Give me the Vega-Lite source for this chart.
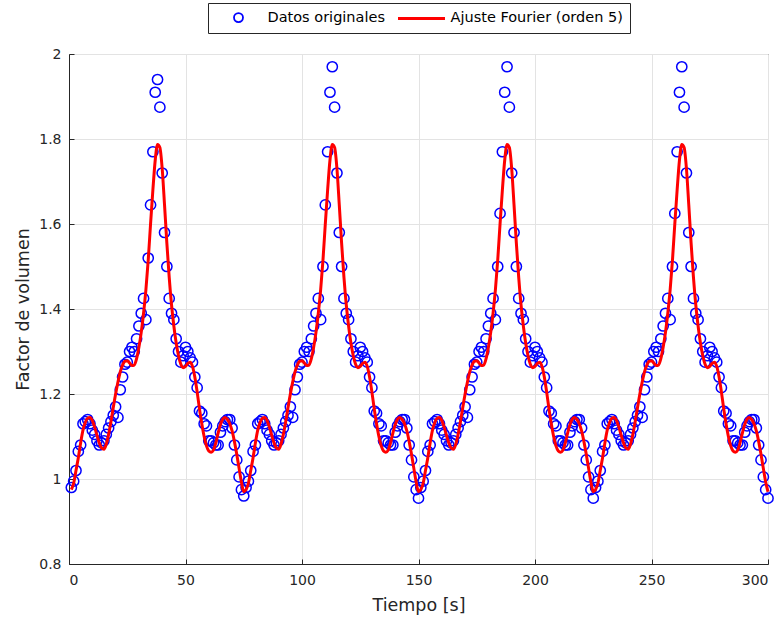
{
"$schema": "https://vega.github.io/schema/vega-lite/v6.json",
"width": 699, "height": 510,
"autosize": {"type": "none"},
"padding": {"left": 69, "top": 54, "right": 14, "bottom": 55},
"background": "white",
"config": {
  "font": "DejaVu Sans",
  "view": {"stroke": "#262626", "strokeWidth": 1},
  "axis": {"domainColor": "#262626", "tickColor": "#262626", "labelColor": "#262626", "titleColor": "#262626", "gridColor": "#e3e3e3", "labelFontSize": 14, "titleFontSize": 17.5, "titleFontWeight": "normal", "labelFont": "DejaVu Sans", "titleFont": "DejaVu Sans"},
  "legend": {
    "title": null, "orient": "none", "legendX": 139, "legendY": -51, "direction": "horizontal",
    "padding": 7, "strokeColor": "#262626", "fillColor": "white",
    "labelFontSize": 14.5, "labelFont": "DejaVu Sans", "labelColor": "#000000", "labelLimit": 400,
    "symbolSize": 81, "symbolStrokeWidth": 1.5, "labelOffset": 38, "columnPadding": 7
  }
},
"datasets": {
"datos": [
{"t":1,"v":0.98},{"t":2,"v":0.995},{"t":3,"v":1.02},{"t":4,"v":1.065},{"t":5,"v":1.08},{"t":6,"v":1.13},{"t":7,"v":1.135},{"t":8,"v":1.14},{"t":9,"v":1.13},{"t":10,"v":1.115},{"t":11,"v":1.105},{"t":12,"v":1.09},{"t":13,"v":1.08},{"t":14,"v":1.085},{"t":15,"v":1.09},{"t":16,"v":1.105},{"t":17,"v":1.12},{"t":18,"v":1.135},{"t":19,"v":1.15},{"t":20,"v":1.17},{"t":21,"v":1.145},{"t":22,"v":1.21},{"t":23,"v":1.24},{"t":24,"v":1.27},{"t":25,"v":1.275},{"t":26,"v":1.3},{"t":27,"v":1.31},{"t":28,"v":1.3},{"t":29,"v":1.33},{"t":30,"v":1.36},{"t":31,"v":1.39},{"t":32,"v":1.425},{"t":33,"v":1.375},{"t":34,"v":1.52},{"t":35,"v":1.645},{"t":36,"v":1.77},{"t":37,"v":1.91},{"t":38,"v":1.94},{"t":39,"v":1.875},{"t":40,"v":1.72},{"t":41,"v":1.58},{"t":42,"v":1.5},{"t":43,"v":1.425},{"t":44,"v":1.39},{"t":45,"v":1.375},{"t":46,"v":1.33},{"t":47,"v":1.3},{"t":48,"v":1.275},{"t":49,"v":1.29},{"t":50,"v":1.31},{"t":51,"v":1.3},{"t":52,"v":1.285},{"t":53,"v":1.275},{"t":54,"v":1.24},{"t":55,"v":1.215},{"t":56,"v":1.16},{"t":57,"v":1.155},{"t":58,"v":1.13},{"t":59,"v":1.125},{"t":60,"v":1.09},{"t":61,"v":1.09},{"t":62,"v":1.085},{"t":63,"v":1.08},{"t":64,"v":1.08},{"t":65,"v":1.11},{"t":66,"v":1.125},{"t":67,"v":1.135},{"t":68,"v":1.14},{"t":69,"v":1.14},{"t":70,"v":1.12},{"t":71,"v":1.08},{"t":72,"v":1.045},{"t":73,"v":1.005},{"t":74,"v":0.975},{"t":75,"v":0.96},
{"t":76,"v":0.98},{"t":77,"v":0.995},{"t":78,"v":1.02},{"t":79,"v":1.065},{"t":80,"v":1.08},{"t":81,"v":1.13},{"t":82,"v":1.135},{"t":83,"v":1.14},{"t":84,"v":1.13},{"t":85,"v":1.115},{"t":86,"v":1.105},{"t":87,"v":1.09},{"t":88,"v":1.08},{"t":89,"v":1.085},{"t":90,"v":1.09},{"t":91,"v":1.105},{"t":92,"v":1.12},{"t":93,"v":1.135},{"t":94,"v":1.15},{"t":95,"v":1.17},{"t":96,"v":1.145},{"t":97,"v":1.21},{"t":98,"v":1.24},{"t":99,"v":1.27},{"t":100,"v":1.275},{"t":101,"v":1.3},{"t":102,"v":1.31},{"t":103,"v":1.3},{"t":104,"v":1.33},{"t":105,"v":1.36},{"t":106,"v":1.39},{"t":107,"v":1.425},{"t":108,"v":1.375},{"t":109,"v":1.5},{"t":110,"v":1.645},{"t":111,"v":1.77},{"t":112,"v":1.91},{"t":113,"v":1.97},{"t":114,"v":1.875},{"t":115,"v":1.72},{"t":116,"v":1.58},{"t":117,"v":1.5},{"t":118,"v":1.425},{"t":119,"v":1.39},{"t":120,"v":1.375},{"t":121,"v":1.33},{"t":122,"v":1.3},{"t":123,"v":1.275},{"t":124,"v":1.29},{"t":125,"v":1.31},{"t":126,"v":1.3},{"t":127,"v":1.285},{"t":128,"v":1.275},{"t":129,"v":1.24},{"t":130,"v":1.215},{"t":131,"v":1.16},{"t":132,"v":1.155},{"t":133,"v":1.13},{"t":134,"v":1.125},{"t":135,"v":1.09},{"t":136,"v":1.09},{"t":137,"v":1.085},{"t":138,"v":1.08},{"t":139,"v":1.08},{"t":140,"v":1.11},{"t":141,"v":1.125},{"t":142,"v":1.135},{"t":143,"v":1.14},{"t":144,"v":1.14},{"t":145,"v":1.12},{"t":146,"v":1.08},{"t":147,"v":1.045},{"t":148,"v":1.005},{"t":149,"v":0.975},{"t":150,"v":0.955},
{"t":151,"v":0.98},{"t":152,"v":0.995},{"t":153,"v":1.02},{"t":154,"v":1.065},{"t":155,"v":1.08},{"t":156,"v":1.13},{"t":157,"v":1.135},{"t":158,"v":1.14},{"t":159,"v":1.13},{"t":160,"v":1.115},{"t":161,"v":1.105},{"t":162,"v":1.09},{"t":163,"v":1.08},{"t":164,"v":1.085},{"t":165,"v":1.09},{"t":166,"v":1.105},{"t":167,"v":1.12},{"t":168,"v":1.135},{"t":169,"v":1.15},{"t":170,"v":1.17},{"t":171,"v":1.145},{"t":172,"v":1.21},{"t":173,"v":1.24},{"t":174,"v":1.27},{"t":175,"v":1.275},{"t":176,"v":1.3},{"t":177,"v":1.31},{"t":178,"v":1.3},{"t":179,"v":1.33},{"t":180,"v":1.36},{"t":181,"v":1.39},{"t":182,"v":1.425},{"t":183,"v":1.375},{"t":184,"v":1.5},{"t":185,"v":1.625},{"t":186,"v":1.77},{"t":187,"v":1.91},{"t":188,"v":1.97},{"t":189,"v":1.875},{"t":190,"v":1.72},{"t":191,"v":1.58},{"t":192,"v":1.5},{"t":193,"v":1.425},{"t":194,"v":1.39},{"t":195,"v":1.375},{"t":196,"v":1.33},{"t":197,"v":1.3},{"t":198,"v":1.275},{"t":199,"v":1.29},{"t":200,"v":1.31},{"t":201,"v":1.3},{"t":202,"v":1.285},{"t":203,"v":1.275},{"t":204,"v":1.24},{"t":205,"v":1.215},{"t":206,"v":1.16},{"t":207,"v":1.155},{"t":208,"v":1.13},{"t":209,"v":1.125},{"t":210,"v":1.09},{"t":211,"v":1.09},{"t":212,"v":1.085},{"t":213,"v":1.08},{"t":214,"v":1.08},{"t":215,"v":1.11},{"t":216,"v":1.125},{"t":217,"v":1.135},{"t":218,"v":1.14},{"t":219,"v":1.14},{"t":220,"v":1.12},{"t":221,"v":1.08},{"t":222,"v":1.045},{"t":223,"v":1.005},{"t":224,"v":0.975},{"t":225,"v":0.955},
{"t":226,"v":0.98},{"t":227,"v":0.995},{"t":228,"v":1.02},{"t":229,"v":1.065},{"t":230,"v":1.08},{"t":231,"v":1.13},{"t":232,"v":1.135},{"t":233,"v":1.14},{"t":234,"v":1.13},{"t":235,"v":1.115},{"t":236,"v":1.105},{"t":237,"v":1.09},{"t":238,"v":1.08},{"t":239,"v":1.085},{"t":240,"v":1.09},{"t":241,"v":1.105},{"t":242,"v":1.12},{"t":243,"v":1.135},{"t":244,"v":1.15},{"t":245,"v":1.17},{"t":246,"v":1.145},{"t":247,"v":1.21},{"t":248,"v":1.24},{"t":249,"v":1.27},{"t":250,"v":1.275},{"t":251,"v":1.3},{"t":252,"v":1.31},{"t":253,"v":1.3},{"t":254,"v":1.33},{"t":255,"v":1.36},{"t":256,"v":1.39},{"t":257,"v":1.425},{"t":258,"v":1.375},{"t":259,"v":1.5},{"t":260,"v":1.625},{"t":261,"v":1.77},{"t":262,"v":1.91},{"t":263,"v":1.97},{"t":264,"v":1.875},{"t":265,"v":1.72},{"t":266,"v":1.58},{"t":267,"v":1.5},{"t":268,"v":1.425},{"t":269,"v":1.39},{"t":270,"v":1.375},{"t":271,"v":1.33},{"t":272,"v":1.3},{"t":273,"v":1.275},{"t":274,"v":1.29},{"t":275,"v":1.31},{"t":276,"v":1.3},{"t":277,"v":1.285},{"t":278,"v":1.275},{"t":279,"v":1.24},{"t":280,"v":1.215},{"t":281,"v":1.16},{"t":282,"v":1.155},{"t":283,"v":1.13},{"t":284,"v":1.125},{"t":285,"v":1.09},{"t":286,"v":1.09},{"t":287,"v":1.085},{"t":288,"v":1.08},{"t":289,"v":1.08},{"t":290,"v":1.11},{"t":291,"v":1.125},{"t":292,"v":1.135},{"t":293,"v":1.14},{"t":294,"v":1.14},{"t":295,"v":1.12},{"t":296,"v":1.08},{"t":297,"v":1.045},{"t":298,"v":1.005},{"t":299,"v":0.975},{"t":300,"v":0.955}
],
"ajuste": [
{"t":1,"f":0.975},{"t":2,"f":0.99},{"t":3,"f":1.02},{"t":4,"f":1.05},{"t":5,"f":1.085},{"t":6,"f":1.115},{"t":7,"f":1.133},{"t":8,"f":1.143},{"t":9,"f":1.145},{"t":10,"f":1.138},{"t":11,"f":1.122},{"t":12,"f":1.103},{"t":13,"f":1.085},{"t":14,"f":1.073},{"t":15,"f":1.07},{"t":16,"f":1.082},{"t":17,"f":1.105},{"t":18,"f":1.135},{"t":19,"f":1.168},{"t":20,"f":1.2},{"t":21,"f":1.228},{"t":22,"f":1.252},{"t":23,"f":1.268},{"t":24,"f":1.277},{"t":25,"f":1.278},{"t":26,"f":1.273},{"t":27,"f":1.267},{"t":28,"f":1.268},{"t":29,"f":1.283},{"t":30,"f":1.31},{"t":31,"f":1.345},{"t":32,"f":1.39},{"t":33,"f":1.445},{"t":34,"f":1.515},{"t":35,"f":1.6},{"t":36,"f":1.68},{"t":37,"f":1.75},{"t":38,"f":1.787},{"t":39,"f":1.78},{"t":40,"f":1.73},{"t":41,"f":1.645},{"t":42,"f":1.555},{"t":43,"f":1.475},{"t":44,"f":1.41},{"t":45,"f":1.36},{"t":46,"f":1.32},{"t":47,"f":1.29},{"t":48,"f":1.27},{"t":49,"f":1.262},{"t":50,"f":1.265},{"t":51,"f":1.272},{"t":52,"f":1.275},{"t":53,"f":1.265},{"t":54,"f":1.24},{"t":55,"f":1.205},{"t":56,"f":1.165},{"t":57,"f":1.13},{"t":58,"f":1.1},{"t":59,"f":1.078},{"t":60,"f":1.066},{"t":61,"f":1.063},{"t":62,"f":1.068},{"t":63,"f":1.085},{"t":64,"f":1.108},{"t":65,"f":1.128},{"t":66,"f":1.141},{"t":67,"f":1.145},{"t":68,"f":1.14},{"t":69,"f":1.13},{"t":70,"f":1.113},{"t":71,"f":1.088},{"t":72,"f":1.058},{"t":73,"f":1.025},{"t":74,"f":0.993},{"t":75,"f":0.97},
{"t":76,"f":0.975},{"t":77,"f":0.99},{"t":78,"f":1.02},{"t":79,"f":1.05},{"t":80,"f":1.085},{"t":81,"f":1.115},{"t":82,"f":1.133},{"t":83,"f":1.143},{"t":84,"f":1.145},{"t":85,"f":1.138},{"t":86,"f":1.122},{"t":87,"f":1.103},{"t":88,"f":1.085},{"t":89,"f":1.073},{"t":90,"f":1.07},{"t":91,"f":1.082},{"t":92,"f":1.105},{"t":93,"f":1.135},{"t":94,"f":1.168},{"t":95,"f":1.2},{"t":96,"f":1.228},{"t":97,"f":1.252},{"t":98,"f":1.268},{"t":99,"f":1.277},{"t":100,"f":1.278},{"t":101,"f":1.273},{"t":102,"f":1.267},{"t":103,"f":1.268},{"t":104,"f":1.283},{"t":105,"f":1.31},{"t":106,"f":1.345},{"t":107,"f":1.39},{"t":108,"f":1.445},{"t":109,"f":1.515},{"t":110,"f":1.6},{"t":111,"f":1.68},{"t":112,"f":1.75},{"t":113,"f":1.787},{"t":114,"f":1.78},{"t":115,"f":1.73},{"t":116,"f":1.645},{"t":117,"f":1.555},{"t":118,"f":1.475},{"t":119,"f":1.41},{"t":120,"f":1.36},{"t":121,"f":1.32},{"t":122,"f":1.29},{"t":123,"f":1.27},{"t":124,"f":1.262},{"t":125,"f":1.265},{"t":126,"f":1.272},{"t":127,"f":1.275},{"t":128,"f":1.265},{"t":129,"f":1.24},{"t":130,"f":1.205},{"t":131,"f":1.165},{"t":132,"f":1.13},{"t":133,"f":1.1},{"t":134,"f":1.078},{"t":135,"f":1.066},{"t":136,"f":1.063},{"t":137,"f":1.068},{"t":138,"f":1.085},{"t":139,"f":1.108},{"t":140,"f":1.128},{"t":141,"f":1.141},{"t":142,"f":1.145},{"t":143,"f":1.14},{"t":144,"f":1.13},{"t":145,"f":1.113},{"t":146,"f":1.088},{"t":147,"f":1.058},{"t":148,"f":1.025},{"t":149,"f":0.993},{"t":150,"f":0.97},
{"t":151,"f":0.975},{"t":152,"f":0.99},{"t":153,"f":1.02},{"t":154,"f":1.05},{"t":155,"f":1.085},{"t":156,"f":1.115},{"t":157,"f":1.133},{"t":158,"f":1.143},{"t":159,"f":1.145},{"t":160,"f":1.138},{"t":161,"f":1.122},{"t":162,"f":1.103},{"t":163,"f":1.085},{"t":164,"f":1.073},{"t":165,"f":1.07},{"t":166,"f":1.082},{"t":167,"f":1.105},{"t":168,"f":1.135},{"t":169,"f":1.168},{"t":170,"f":1.2},{"t":171,"f":1.228},{"t":172,"f":1.252},{"t":173,"f":1.268},{"t":174,"f":1.277},{"t":175,"f":1.278},{"t":176,"f":1.273},{"t":177,"f":1.267},{"t":178,"f":1.268},{"t":179,"f":1.283},{"t":180,"f":1.31},{"t":181,"f":1.345},{"t":182,"f":1.39},{"t":183,"f":1.445},{"t":184,"f":1.515},{"t":185,"f":1.6},{"t":186,"f":1.68},{"t":187,"f":1.75},{"t":188,"f":1.787},{"t":189,"f":1.78},{"t":190,"f":1.73},{"t":191,"f":1.645},{"t":192,"f":1.555},{"t":193,"f":1.475},{"t":194,"f":1.41},{"t":195,"f":1.36},{"t":196,"f":1.32},{"t":197,"f":1.29},{"t":198,"f":1.27},{"t":199,"f":1.262},{"t":200,"f":1.265},{"t":201,"f":1.272},{"t":202,"f":1.275},{"t":203,"f":1.265},{"t":204,"f":1.24},{"t":205,"f":1.205},{"t":206,"f":1.165},{"t":207,"f":1.13},{"t":208,"f":1.1},{"t":209,"f":1.078},{"t":210,"f":1.066},{"t":211,"f":1.063},{"t":212,"f":1.068},{"t":213,"f":1.085},{"t":214,"f":1.108},{"t":215,"f":1.128},{"t":216,"f":1.141},{"t":217,"f":1.145},{"t":218,"f":1.14},{"t":219,"f":1.13},{"t":220,"f":1.113},{"t":221,"f":1.088},{"t":222,"f":1.058},{"t":223,"f":1.025},{"t":224,"f":0.993},{"t":225,"f":0.97},
{"t":226,"f":0.975},{"t":227,"f":0.99},{"t":228,"f":1.02},{"t":229,"f":1.05},{"t":230,"f":1.085},{"t":231,"f":1.115},{"t":232,"f":1.133},{"t":233,"f":1.143},{"t":234,"f":1.145},{"t":235,"f":1.138},{"t":236,"f":1.122},{"t":237,"f":1.103},{"t":238,"f":1.085},{"t":239,"f":1.073},{"t":240,"f":1.07},{"t":241,"f":1.082},{"t":242,"f":1.105},{"t":243,"f":1.135},{"t":244,"f":1.168},{"t":245,"f":1.2},{"t":246,"f":1.228},{"t":247,"f":1.252},{"t":248,"f":1.268},{"t":249,"f":1.277},{"t":250,"f":1.278},{"t":251,"f":1.273},{"t":252,"f":1.267},{"t":253,"f":1.268},{"t":254,"f":1.283},{"t":255,"f":1.31},{"t":256,"f":1.345},{"t":257,"f":1.39},{"t":258,"f":1.445},{"t":259,"f":1.515},{"t":260,"f":1.6},{"t":261,"f":1.68},{"t":262,"f":1.75},{"t":263,"f":1.787},{"t":264,"f":1.78},{"t":265,"f":1.73},{"t":266,"f":1.645},{"t":267,"f":1.555},{"t":268,"f":1.475},{"t":269,"f":1.41},{"t":270,"f":1.36},{"t":271,"f":1.32},{"t":272,"f":1.29},{"t":273,"f":1.27},{"t":274,"f":1.262},{"t":275,"f":1.265},{"t":276,"f":1.272},{"t":277,"f":1.275},{"t":278,"f":1.265},{"t":279,"f":1.24},{"t":280,"f":1.205},{"t":281,"f":1.165},{"t":282,"f":1.13},{"t":283,"f":1.1},{"t":284,"f":1.078},{"t":285,"f":1.066},{"t":286,"f":1.063},{"t":287,"f":1.068},{"t":288,"f":1.085},{"t":289,"f":1.108},{"t":290,"f":1.128},{"t":291,"f":1.141},{"t":292,"f":1.145},{"t":293,"f":1.14},{"t":294,"f":1.13},{"t":295,"f":1.113},{"t":296,"f":1.088},{"t":297,"f":1.058},{"t":298,"f":1.025},{"t":299,"f":0.993},{"t":300,"f":0.97}
]
},
"layer": [
{
  "data": {"name": "datos"},
  "mark": {"type": "point", "shape": "circle", "filled": false, "size": 105, "strokeWidth": 1.5, "opacity": 1},
  "encoding": {
    "x": {"field": "t", "type": "quantitative", "scale": {"domain": [0, 300], "nice": false},
      "axis": {"values": [0, 50, 100, 150, 200, 250, 300], "title": "Tiempo [s]", "grid": true, "tickSize": -5, "labelPadding": 14, "titlePadding": 9}},
    "y": {"field": "v", "type": "quantitative", "scale": {"domain": [0.8, 2], "nice": false, "zero": false},
      "axis": {"values": [0.8, 1, 1.2, 1.4, 1.6, 1.8, 2], "format": "~g", "title": "Factor de volumen", "grid": true, "tickSize": -5, "labelPadding": 13, "titlePadding": 6}},
    "color": {"datum": "Datos originales", "type": "nominal",
      "scale": {"domain": ["Datos originales", "Ajuste Fourier (orden 5)"], "range": ["#0000ff", "#ff0000"]},
      "legend": {
        "encode": {"symbols": {"update": {
          "shape": {"signal": "datum.value === 'Datos originales' ? 'circle' : 'M-5.22,0H5.22'"},
          "x": {"value": 23.5},
          "fill": {"value": "transparent"},
          "stroke": {"signal": "datum.value === 'Datos originales' ? '#0000ff' : '#ff0000'"},
          "strokeWidth": {"signal": "datum.value === 'Datos originales' ? 1.8 : 3"},
          "opacity": {"value": 1}
        }}}
      }}
  }
},
{
  "data": {"name": "ajuste"},
  "mark": {"type": "line", "strokeWidth": 3, "interpolate": "monotone"},
  "encoding": {
    "x": {"field": "t", "type": "quantitative"},
    "y": {"field": "f", "type": "quantitative"},
    "color": {"datum": "Ajuste Fourier (orden 5)", "type": "nominal",
      "legend": {
        "encode": {"symbols": {"update": {
          "shape": {"signal": "datum.value === 'Datos originales' ? 'circle' : 'M-5.22,0H5.22'"},
          "x": {"value": 23.5},
          "fill": {"value": "transparent"},
          "stroke": {"signal": "datum.value === 'Datos originales' ? '#0000ff' : '#ff0000'"},
          "strokeWidth": {"signal": "datum.value === 'Datos originales' ? 1.8 : 3"},
          "opacity": {"value": 1}
        }}}
      }}
  }
}
]
}
